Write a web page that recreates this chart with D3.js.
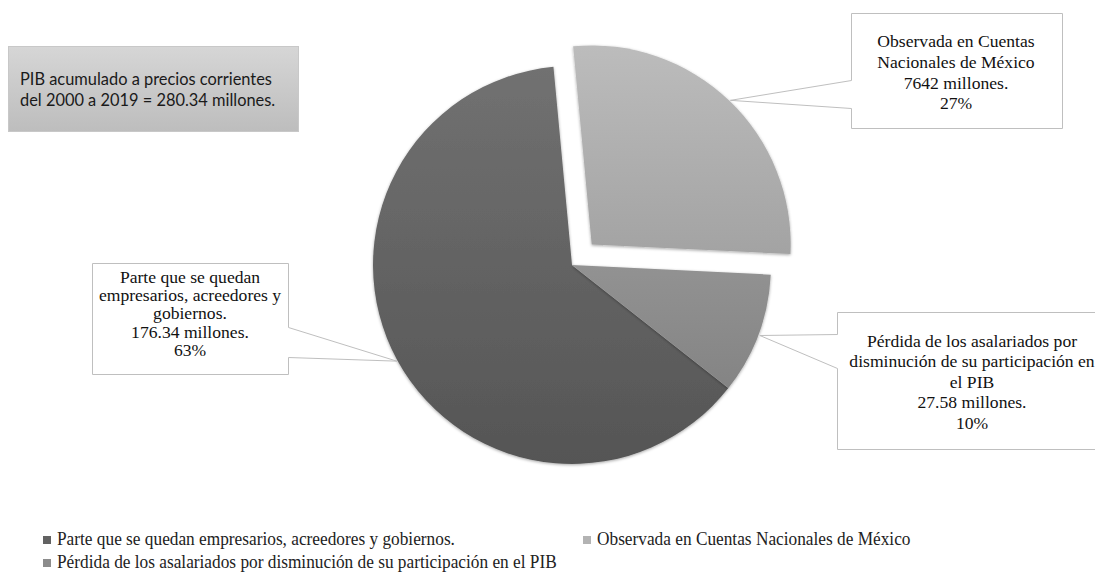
<!DOCTYPE html>
<html>
<head>
<meta charset="utf-8">
<script src="https://cdn.jsdelivr.net/npm/d3@7"></script>
<style>
  html, body { margin: 0; padding: 0; background: #fff; }
  svg { display: block; }
  .serif { font-family: "Liberation Serif", "Times New Roman", Times, "DejaVu Serif", serif; }
  .note { font-family: Lato, "Open Sans", sans-serif; }
</style>
</head>
<body>
<svg id="chart" width="1095" height="575"></svg>
<script>
// Distribución del PIB acumulado 2000–2019 (millones)
const categories = [
  "Parte que se quedan empresarios, acreedores y gobiernos.",
  "Observada en Cuentas Nacionales de México",
  "Pérdida de los asalariados por disminución de su participación en el PIB"
];
const values = [176.34, 76.42, 27.58];
const valueLabels = ["176.34 millones.", "7642 millones.", "27.58 millones."];
const nameLines = [
  ["Parte que se quedan", "empresarios, acreedores y", "gobiernos."],
  ["Observada en Cuentas", "Nacionales de México"],
  ["Pérdida de los asalariados por", "disminución de su participación en", "el PIB"]
];
const noteLines = ["PIB acumulado a precios corrientes", "del 2000 a 2019 = 280.34 millones."];

const svg = d3.select("#chart");
const defs = svg.append("defs");

const cx = 572, cy = 265, R = 199;
const explode = [0, 28.5, 0];
const deg = Math.PI / 180;

const topColors = ["#717171", "#bcbcbc", "#929292"];
const botColors = ["#555555", "#a3a3a3", "#848484"];
const legendColors = ["#626262", "#b3b3b3", "#8c8c8c"];

categories.forEach((c, i) => {
  const g = defs.append("linearGradient")
    .attr("id", "grad" + i)
    .attr("x1", 0).attr("y1", 0).attr("x2", 0).attr("y2", 1);
  g.append("stop").attr("offset", "0%").attr("stop-color", topColors[i]);
  g.append("stop").attr("offset", "100%").attr("stop-color", botColors[i]);
});

const noteGrad = defs.append("linearGradient")
  .attr("id", "noteGrad").attr("x1", 0).attr("y1", 0).attr("x2", 0).attr("y2", 1);
noteGrad.append("stop").attr("offset", "0%").attr("stop-color", "#d6d6d6");
noteGrad.append("stop").attr("offset", "100%").attr("stop-color", "#bdbdbd");

const shadow = defs.append("filter").attr("id", "soft")
  .attr("x", "-20%").attr("y", "-20%").attr("width", "140%").attr("height", "140%");
shadow.append("feDropShadow")
  .attr("dx", 0).attr("dy", 1).attr("stdDeviation", 1.6)
  .attr("flood-color", "#000").attr("flood-opacity", 0.35);

// Pie layout: first slice starts at the lower right, clockwise
const start = 128.2 * deg;
const pie = d3.pie().sort(null).startAngle(start).endAngle(start + 2 * Math.PI);
const arcs = pie(values);
const arc = d3.arc().innerRadius(0).outerRadius(R);
const edge = d3.arc().innerRadius(R + 1).outerRadius(R + 1);

function offset(d, i) {
  const a = (d.startAngle + d.endAngle) / 2;
  return [Math.sin(a) * explode[i], -Math.cos(a) * explode[i]];
}

const pieG = svg.append("g").attr("transform", `translate(${cx},${cy})`);
pieG.selectAll("path.slice")
  .data(arcs)
  .join("path")
  .attr("class", "slice")
  .attr("d", arc)
  .attr("fill", (d, i) => `url(#grad${i})`)
  .attr("filter", "url(#soft)")
  .attr("transform", (d, i) => { const o = offset(d, i); return `translate(${o[0]},${o[1]})`; });

// Note box (top left)
const note = svg.append("g");
note.append("rect")
  .attr("x", 8.5).attr("y", 46.5).attr("width", 290).attr("height", 85)
  .attr("fill", "url(#noteGrad)").attr("stroke", "#c8c8c8");
note.selectAll("text").data(noteLines).join("text")
  .attr("class", "note")
  .attr("x", 20).attr("y", (d, i) => 85 + i * 20.5)
  .attr("font-size", 16.4).attr("fill", "#1a1a1a")
  .text(d => d);

// Callout label boxes
const boxes = [
  { x0: 92, y0: 263, x1: 288, y1: 374, side: "right", a: 327, b: 357, tx: 190, ty: 283, dy: 18.2, fs: 17.6 },
  { x0: 851, y0: 13, x1: 1062, y1: 128, side: "left", a: 80, b: 108, tx: 956, ty: 47, dy: 20.8, fs: 17.6 },
  { x0: 837, y0: 312, x1: 1107, y1: 449, side: "left", a: 334, b: 368, tx: 972, ty: 347, dy: 20.4, fs: 17.6 }
];

const pct = d3.format(".0%");
const total = d3.sum(values);

arcs.forEach((d, i) => {
  const b = boxes[i];
  const o = offset(d, i);
  const c = edge.centroid(d);
  const tip = [cx + c[0] + o[0], cy + c[1] + o[1]];
  let pts;
  if (b.side === "left") {
    pts = [[b.x0, b.y0], [b.x1, b.y0], [b.x1, b.y1], [b.x0, b.y1], [b.x0, b.b], tip, [b.x0, b.a]];
  } else {
    pts = [[b.x0, b.y0], [b.x1, b.y0], [b.x1, b.a], tip, [b.x1, b.b], [b.x1, b.y1], [b.x0, b.y1]];
  }
  svg.append("path")
    .attr("d", d3.line()(pts.map(p => [p[0] + 0.5, p[1] + 0.5])) + "Z")
    .attr("fill", "#fff").attr("stroke", "#bfbfbf").attr("stroke-width", 1);
  const lines = nameLines[i].concat([valueLabels[i], pct(values[i] / total)]);
  svg.append("g").selectAll("text").data(lines).join("text")
    .attr("class", "serif")
    .attr("x", b.tx).attr("y", (t, k) => b.ty + k * b.dy)
    .attr("text-anchor", "middle")
    .attr("font-size", b.fs).attr("fill", "#111")
    .text(t => t);
});

// Legend
const legendPos = [[43, 545], [583, 545], [43, 568]];
const legend = svg.append("g");
categories.forEach((c, i) => {
  const [lx, ly] = legendPos[i];
  legend.append("rect").attr("x", lx).attr("y", ly - 9).attr("width", 8).attr("height", 8)
    .attr("fill", legendColors[i]);
  legend.append("text").attr("class", "serif")
    .attr("transform", `translate(${lx + 14},${ly}) scale(1,1.1)`)
    .attr("font-size", 17.3).attr("fill", "#222")
    .text(c);
});
</script>
</body>
</html>
